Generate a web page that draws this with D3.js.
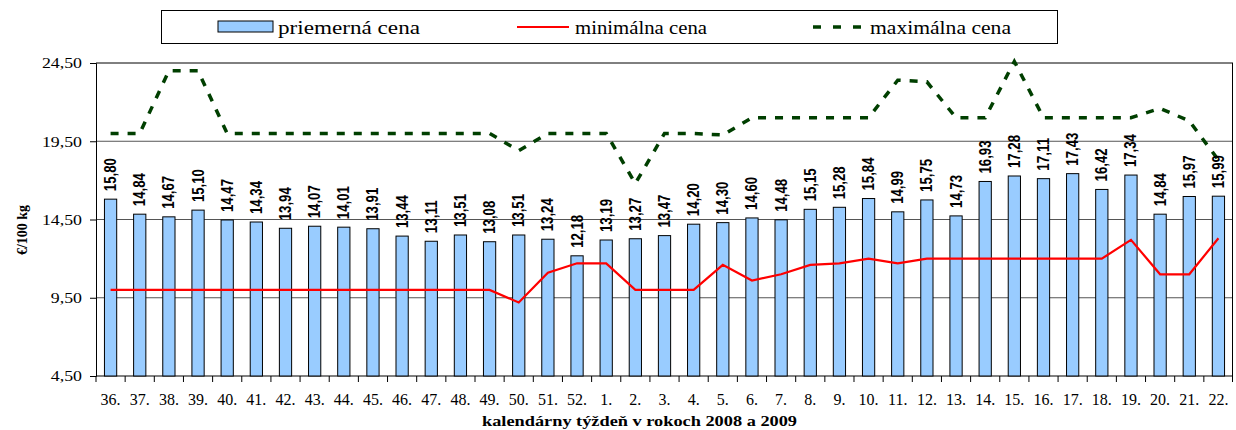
<!DOCTYPE html>
<html>
<head>
<meta charset="utf-8">
<script src="https://cdn.jsdelivr.net/npm/d3@7"></script>
<style>
  body { margin: 0; background: #fff; }
  svg { display: block; }
</style>
</head>
<body>
<svg width="1236" height="430"></svg>
<script>
// data
var weeks = ["36.", "37.", "38.", "39.", "40.", "41.", "42.", "43.", "44.", "45.", "46.", "47.", "48.", "49.", "50.", "51.", "52.",
  "1.", "2.", "3.", "4.", "5.", "6.", "7.", "8.", "9.", "10.", "11.", "12.", "13.", "14.", "15.", "16.", "17.", "18.", "19.", "20.", "21.", "22."];
var avgPrice = [15.80, 14.84, 14.67, 15.10, 14.47, 14.34, 13.94, 14.07, 14.01, 13.91, 13.44, 13.11, 13.51, 13.08, 13.51, 13.24, 12.18,
  13.19, 13.27, 13.47, 14.20, 14.30, 14.60, 14.48, 15.15, 15.28, 15.84, 14.99, 15.75, 14.73, 16.93, 17.28, 17.11, 17.43, 16.42, 17.34, 14.84, 15.97, 15.99];
var minPrice = [10.0, 10.0, 10.0, 10.0, 10.0, 10.0, 10.0, 10.0, 10.0, 10.0, 10.0, 10.0, 10.0, 10.0, 9.2, 11.1, 11.7,
  11.7, 10.0, 10.0, 10.0, 11.6, 10.6, 11.0, 11.6, 11.7, 12.0, 11.7, 12.0, 12.0, 12.0, 12.0, 12.0, 12.0, 12.0, 13.2, 11.0, 11.0, 13.3];
var maxPrice = [20.0, 20.0, 24.0, 24.0, 20.0, 20.0, 20.0, 20.0, 20.0, 20.0, 20.0, 20.0, 20.0, 20.0, 18.9, 20.0, 20.0,
  20.0, 16.8, 20.0, 20.0, 19.9, 21.0, 21.0, 21.0, 21.0, 21.0, 23.4, 23.3, 21.0, 21.0, 24.6, 21.0, 21.0, 21.0, 21.0, 21.6, 20.8, 18.3];
var yTicks = [4.5, 9.5, 14.5, 19.5, 24.5];
var legendLabels = ["priemerná cena", "minimálna cena", "maximálna cena"];

var svg = d3.select("svg"),
    margin = {top: 63, right: 3, bottom: 54, left: 96},
    width = +svg.attr("width") - margin.left - margin.right,
    height = +svg.attr("height") - margin.top - margin.bottom;

var serif = "'Liberation Serif', 'Times New Roman', serif";
var fmt = function(v) { return d3.format(".2f")(v).replace(".", ","); };

// stretch text horizontally a bit, like the original
function stretch(sel, k) {
  sel.each(function() {
    var len = this.getComputedTextLength();
    d3.select(this).attr("textLength", len * k).attr("lengthAdjust", "spacingAndGlyphs");
  });
}

var g = svg.append("g").attr("transform", `translate(${margin.left},${margin.top})`);

var x = d3.scaleBand().domain(weeks).range([0, width]).padding(0);
var y = d3.scaleLinear().domain([4.5, 24.5]).range([height, 0]);

// gridlines + frame
g.selectAll(".grid")
  .data(yTicks.slice(1))
  .join("line")
    .attr("x1", 0).attr("x2", width)
    .attr("y1", d => y(d)).attr("y2", d => y(d))
    .attr("stroke", d => d === 24.5 ? "#000" : "#555")
    .attr("stroke-width", 1);
g.append("line")
  .attr("x1", width - 0.5).attr("x2", width - 0.5)
  .attr("y1", 0).attr("y2", height)
  .attr("stroke", "#000");

// y axis
var yAxis = g.append("g")
  .call(d3.axisLeft(y).tickValues(yTicks).tickFormat(fmt).tickSize(6).tickPadding(8));
yAxis.select(".domain").attr("stroke", "#000");
yAxis.selectAll("text")
  .attr("font-family", serif)
  .attr("font-size", 15.5).attr("fill", "#000")
  .call(stretch, 1.15);

// x axis, ticks between categories
var xAxis = g.append("g")
  .attr("transform", `translate(0,${height})`)
  .call(d3.axisBottom(x).tickSize(6).tickPadding(12));
xAxis.select(".domain").attr("d", `M0,0H${width}`).attr("stroke", "#000");
xAxis.selectAll(".tick line")
  .attr("x1", -x.step() / 2).attr("x2", -x.step() / 2).attr("stroke", "#000");
xAxis.append("line")
  .attr("x1", width - 0.5).attr("x2", width - 0.5).attr("y1", 0).attr("y2", 6)
  .attr("stroke", "#000");
xAxis.selectAll("text")
  .attr("font-family", serif)
  .attr("font-size", 16).attr("fill", "#000");

// bars
var bw = x.bandwidth() * 0.42;
g.selectAll(".bar")
  .data(weeks)
  .join("rect")
    .attr("x", (d, i) => x(d) + (x.bandwidth() - bw) / 2)
    .attr("y", (d, i) => y(avgPrice[i]))
    .attr("width", bw)
    .attr("height", (d, i) => height - y(avgPrice[i]))
    .attr("fill", "#99CCFF")
    .attr("stroke", "#000")
    .attr("stroke-width", 1);

// min line
var line = d3.line().x((d, i) => x(weeks[i]) + x.bandwidth() / 2).y(d => y(d));
g.append("path")
  .datum(minPrice)
  .attr("d", line)
  .attr("fill", "none")
  .attr("stroke", "#FF0000")
  .attr("stroke-width", 2.2);

// max line
g.append("path")
  .datum(maxPrice)
  .attr("d", line)
  .attr("fill", "none")
  .attr("stroke", "#003F00")
  .attr("stroke-width", 3.5)
  .attr("stroke-dasharray", "8,9");

// bar labels
g.selectAll(".lbl")
  .data(weeks)
  .join("text")
    .attr("transform", (d, i) => `translate(${x(d) + x.bandwidth() / 2 + 5.5},${y(avgPrice[i]) - 8}) rotate(-90)`)
    .attr("font-family", "'Liberation Sans Narrow', 'Arial Narrow', 'Liberation Sans', Arial, sans-serif")
    .attr("font-size", 16)
    .attr("font-weight", "bold")
    .attr("fill", "#000")
    .attr("textLength", 33)
    .attr("lengthAdjust", "spacingAndGlyphs")
    .text((d, i) => fmt(avgPrice[i]));

// axis titles
svg.append("text")
  .attr("transform", `translate(27,230) rotate(-90)`)
  .attr("text-anchor", "middle")
  .attr("font-family", serif)
  .attr("font-size", 14).attr("font-weight", "bold")
  .text("€/100 kg");
svg.append("text")
  .attr("x", 482).attr("y", 426)
  .attr("font-family", serif)
  .attr("font-size", 15).attr("font-weight", "bold")
  .attr("textLength", 315)
  .attr("lengthAdjust", "spacingAndGlyphs")
  .text("kalendárny týždeň v rokoch 2008 a 2009");

// legend
var lg = svg.append("g");
lg.append("rect")
  .attr("x", 161.5).attr("y", 10.5).attr("width", 896).attr("height", 33)
  .attr("fill", "#fff").attr("stroke", "#000").attr("stroke-width", 1);
lg.append("rect")
  .attr("x", 218).attr("y", 21).attr("width", 55).attr("height", 11)
  .attr("fill", "#99CCFF").attr("stroke", "#000");
lg.append("line")
  .attr("x1", 517).attr("x2", 569).attr("y1", 27).attr("y2", 27)
  .attr("stroke", "#FF0000").attr("stroke-width", 2.2);
lg.append("line")
  .attr("x1", 813).attr("x2", 870).attr("y1", 27).attr("y2", 27)
  .attr("stroke", "#003F00").attr("stroke-width", 3.5).attr("stroke-dasharray", "8,12");
var lx = [278, 575, 870];
var lw = [142, 132, 141];
lg.selectAll(".lt")
  .data(legendLabels)
  .join("text")
    .attr("x", (d, i) => lx[i]).attr("y", 34)
    .attr("font-family", serif)
    .attr("font-size", 18)
    .attr("textLength", (d, i) => lw[i])
    .attr("lengthAdjust", "spacingAndGlyphs")
    .text(d => d);
</script>
</body>
</html>
